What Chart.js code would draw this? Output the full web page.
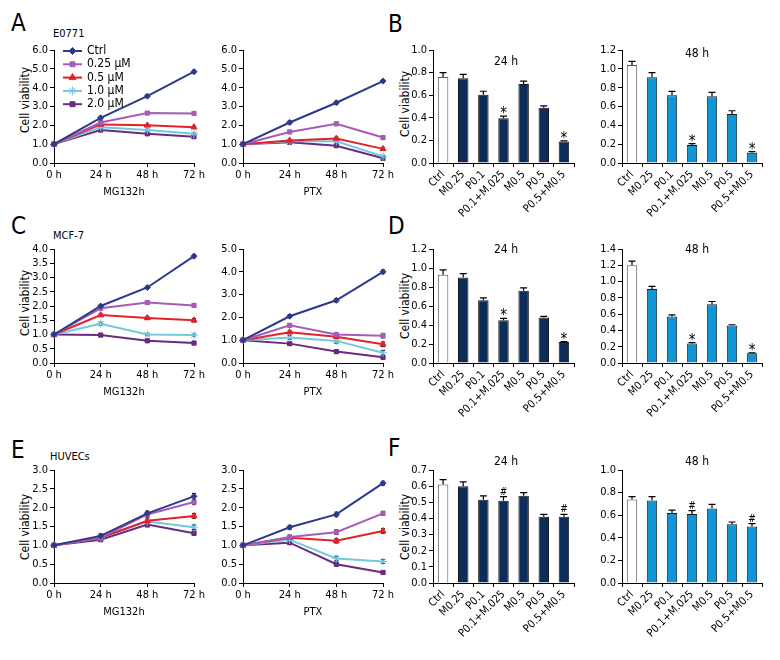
<!DOCTYPE html>
<html>
<head>
<meta charset="utf-8">
<script src="https://cdn.jsdelivr.net/npm/chart.js@4"></script>
<style>
  body { margin: 0; background: #fff; width: 780px; height: 660px; position: relative; overflow: hidden;
         font-family: 'Liberation Sans Narrow', 'DejaVu Sans Condensed', 'Roboto Condensed', Arial, sans-serif; color: #000; }
  canvas { position: absolute; }
  .txt { position: absolute; white-space: nowrap; line-height: 1; }
  .letter { font-size: 24px; }
  .cell { font-size: 11px; }
  .ytitle { font-size: 12px; transform: translate(-50%, -50%) rotate(-90deg); }
</style>
</head>
<body>
<div class="txt letter" style="left:11px;top:11px">A</div>
<div class="txt letter" style="left:388px;top:12px">B</div>
<div class="txt letter" style="left:11px;top:214px">C</div>
<div class="txt letter" style="left:388px;top:214px">D</div>
<div class="txt letter" style="left:11px;top:438px">E</div>
<div class="txt letter" style="left:388px;top:436px">F</div>
<div class="txt cell" style="left:53px;top:28px">E0771</div>
<div class="txt cell" style="left:53px;top:230px">MCF-7</div>
<div class="txt cell" style="left:50px;top:451px">HUVECs</div>
<div class="txt ytitle" style="left:25px;top:100px">Cell viability</div>
<div class="txt ytitle" style="left:25px;top:303px">Cell viability</div>
<div class="txt ytitle" style="left:25px;top:527px">Cell viability</div>
<div class="txt ytitle" style="left:405px;top:104px">Cell viability</div>
<div class="txt ytitle" style="left:405px;top:306px">Cell viability</div>
<div class="txt ytitle" style="left:405px;top:527px">Cell viability</div>

<script>
const FONT = "'Liberation Sans Narrow','DejaVu Sans Condensed','Roboto Condensed',Arial,sans-serif";
Chart.defaults.font.family = FONT;
Chart.defaults.color = '#000';

// ---- data ----
const timeLabels = ['0 h', '24 h', '48 h', '72 h'];
const doseLabels = ['Ctrl', '0.25 µM', '0.5 µM', '1.0 µM', '2.0 µM'];
const groupLabels = ['Ctrl', 'M0.25', 'P0.1', 'P0.1+M.025', 'M0.5', 'P0.5', 'P0.5+M0.5'];

// line panels: one row per dose (Ctrl, 0.25, 0.5, 1.0, 2.0)
const e0771Mg132 = [
  [1.0, 2.4, 3.55, 4.85],
  [1.0, 2.15, 2.65, 2.63],
  [1.0, 2.05, 2.0, 1.9],
  [1.0, 1.9, 1.75, 1.55],
  [1.0, 1.75, 1.55, 1.4]
];
const e0771Mg132Err = [
  [0, 0.06, 0.06, 0.08], [0, 0.05, 0.06, 0.06], [0, 0.05, 0.05, 0.06], [0, 0.05, 0.05, 0.05], [0, 0.05, 0.05, 0.05]
];
const e0771Ptx = [
  [1.0, 2.15, 3.2, 4.35],
  [1.0, 1.65, 2.08, 1.35],
  [1.0, 1.2, 1.3, 0.75],
  [1.0, 1.15, 1.15, 0.35],
  [1.0, 1.1, 0.92, 0.25]
];
const e0771PtxErr = [
  [0, 0.08, 0.08, 0.08], [0, 0.08, 0.08, 0.08], [0, 0.05, 0.08, 0.08], [0, 0.05, 0.05, 0.05], [0, 0.05, 0.05, 0.05]
];
const mcf7Mg132 = [
  [1.0, 2.0, 2.65, 3.75],
  [1.0, 1.92, 2.12, 2.02],
  [1.0, 1.68, 1.58, 1.5],
  [1.0, 1.38, 1.0, 0.98],
  [1.0, 0.98, 0.78, 0.7]
];
const mcf7Mg132Err = [
  [0, 0.04, 0.04, 0.06], [0, 0.04, 0.05, 0.05], [0, 0.05, 0.05, 0.06], [0, 0.05, 0.04, 0.04], [0, 0.04, 0.05, 0.05]
];
const mcf7Ptx = [
  [1.0, 2.05, 2.75, 4.0],
  [1.0, 1.65, 1.25, 1.2],
  [1.0, 1.35, 1.15, 0.82],
  [1.0, 1.12, 0.97, 0.45],
  [1.0, 0.85, 0.5, 0.25]
];
const mcf7PtxErr = [
  [0, 0.06, 0.08, 0.08], [0, 0.06, 0.06, 0.1], [0, 0.06, 0.08, 0.1], [0, 0.08, 0.1, 0.1], [0, 0.06, 0.08, 0.08]
];
const huvecMg132 = [
  [1.0, 1.25, 1.85, 2.3],
  [1.0, 1.2, 1.82, 2.15],
  [1.0, 1.2, 1.65, 1.78],
  [1.0, 1.2, 1.63, 1.48],
  [1.0, 1.15, 1.55, 1.32]
];
const huvecMg132Err = [
  [0, 0.06, 0.06, 0.08], [0, 0.05, 0.06, 0.07], [0, 0.05, 0.08, 0.06], [0, 0.05, 0.06, 0.06], [0, 0.05, 0.06, 0.06]
];
const huvecPtx = [
  [1.0, 1.48, 1.82, 2.65],
  [1.0, 1.22, 1.35, 1.85],
  [1.0, 1.2, 1.12, 1.38],
  [1.0, 1.15, 0.65, 0.57],
  [1.0, 1.07, 0.5, 0.28]
];
const huvecPtxErr = [
  [0, 0.05, 0.06, 0.05], [0, 0.05, 0.06, 0.05], [0, 0.05, 0.06, 0.06], [0, 0.05, 0.06, 0.05], [0, 0.04, 0.05, 0.03]
];

// bar panels
const e0771Bar24 = [0.76, 0.75, 0.605, 0.395, 0.70, 0.49, 0.19];
const e0771Err24 = [0.04, 0.035, 0.03, 0.02, 0.025, 0.015, 0.005];
const e0771Bar48 = [1.04, 0.91, 0.72, 0.19, 0.71, 0.52, 0.11];
const e0771Err48 = [0.04, 0.05, 0.04, 0.015, 0.04, 0.035, 0.01];
const mcf7Bar24 = [0.93, 0.9, 0.66, 0.45, 0.76, 0.48, 0.22];
const mcf7Err24 = [0.05, 0.04, 0.025, 0.02, 0.03, 0.01, 0.005];
const mcf7Bar48 = [1.2, 0.91, 0.57, 0.24, 0.72, 0.46, 0.12];
const mcf7Err48 = [0.05, 0.03, 0.02, 0.01, 0.035, 0.01, 0.005];
const huvecBar24 = [0.61, 0.60, 0.515, 0.51, 0.54, 0.41, 0.41];
const huvecErr24 = [0.03, 0.027, 0.025, 0.025, 0.02, 0.015, 0.015];
const huvecBar48 = [0.74, 0.73, 0.62, 0.61, 0.66, 0.52, 0.5];
const huvecErr48 = [0.025, 0.035, 0.025, 0.03, 0.035, 0.02, 0.025];
const starMarks = ['', '', '', '*', '', '', '*'];
const hashMarks = ['', '', '', '#', '', '', '#'];

// ---- styles ----
const doseColors = ['#2e3a87', '#a65db8', '#e2222b', '#72c8de', '#6b2a80'];
const doseMarkers = ['rectRot', 'rect', 'triangle', 'star', 'rect'];
const doseRadius = [3, 3, 3.5, 4, 3];
const NAVY = '#0c2c5a';
const BLUE = '#1195d5';
const FS = 11;

const ML = 34, MT = 16, MR = 16;

function addCanvas(box, mb) {
  const c = document.createElement('canvas');
  const w = box[2] - box[0] + ML + MR;
  const h = box[3] - box[1] + MT + mb;
  c.width = w; c.height = h;
  c.style.left = (box[0] - ML) + 'px';
  c.style.top = (box[1] - MT) + 'px';
  c.style.width = w + 'px';
  c.style.height = h + 'px';
  document.body.appendChild(c);
  return c;
}

function yAxis(max, step) {
  return {
    min: 0, max: max,
    afterFit: s => { s.width = ML; },
    border: { display: true, color: '#000', width: 1 },
    grid: { drawOnChartArea: false, drawTicks: true, tickLength: 4, color: '#000' },
    ticks: { stepSize: step, autoSkip: false, color: '#000', font: { size: FS }, padding: 2,
             callback: v => Number(v).toFixed(1) }
  };
}

// legend drawn inside panel A (left)
function legendPlugin(box) {
  return {
    id: 'doseLegend',
    afterDraw(chart) {
      const ctx = chart.ctx;
      const ox = box[0] - ML, oy = box[1] - MT;
      ctx.save();
      chart.data.datasets.forEach((ds, i) => {
        const y = 51 + i * 13.3 - oy;
        ctx.strokeStyle = ds.borderColor;
        ctx.fillStyle = ds.borderColor;
        ctx.lineWidth = 2;
        ctx.beginPath(); ctx.moveTo(63 - ox, y); ctx.lineTo(82 - ox, y); ctx.stroke();
        ctx.lineWidth = 1;
        Chart.helpers.drawPoint(ctx, { pointStyle: ds.pointStyle, radius: ds.pointRadius + 0.5, borderWidth: 1, rotation: 0 }, 72.5 - ox, y);
        ctx.fillStyle = '#000';
        ctx.font = '12px ' + FONT;
        ctx.textBaseline = 'middle';
        ctx.textAlign = 'left';
        ctx.fillText(ds.label, 87 - ox, y);
      });
      ctx.restore();
    }
  };
}

// small black error caps on the time-course points
function lineErrorPlugin(errs) {
  return {
    id: 'lineErrors',
    beforeDatasetsDraw(chart) {
      const ctx = chart.ctx;
      const y = chart.scales.y;
      ctx.save();
      ctx.strokeStyle = '#000';
      ctx.lineWidth = 1;
      chart.data.datasets.forEach((ds, d) => {
        chart.getDatasetMeta(d).data.forEach((pt, i) => {
          const e = errs[d][i];
          if (!e) return;
          const hi = y.getPixelForValue(ds.data[i] + e);
          const lo = y.getPixelForValue(ds.data[i] - e);
          ctx.beginPath();
          ctx.moveTo(pt.x, hi); ctx.lineTo(pt.x, lo);
          ctx.moveTo(pt.x - 2, hi); ctx.lineTo(pt.x + 2, hi);
          ctx.moveTo(pt.x - 2, lo); ctx.lineTo(pt.x + 2, lo);
          ctx.stroke();
        });
      });
      ctx.restore();
    }
  };
}

function linePanel(box, series, errs, yMax, yStep, xTitle, withLegend) {
  const mb = 41;
  const canvas = addCanvas(box, mb);
  const plugins = [lineErrorPlugin(errs)];
  if (withLegend) plugins.push(legendPlugin(box));
  new Chart(canvas, {
    type: 'line',
    data: {
      labels: timeLabels,
      datasets: series.map((vals, i) => ({
        label: doseLabels[i],
        data: vals,
        borderColor: doseColors[i],
        backgroundColor: doseColors[i],
        pointBackgroundColor: doseColors[i],
        pointBorderColor: doseColors[i],
        borderWidth: 2,
        pointStyle: doseMarkers[i],
        pointRadius: doseRadius[i],
        pointBorderWidth: 1,
        tension: 0
      }))
    },
    options: {
      responsive: false,
      animation: false,
      layout: { padding: { top: MT, right: MR, left: 0, bottom: 0 } },
      plugins: { legend: { display: false }, tooltip: { enabled: false } },
      scales: {
        x: {
          offset: false,
          afterFit: s => { s.height = mb; },
          border: { display: true, color: '#000', width: 1 },
          grid: { drawOnChartArea: false, drawTicks: true, tickLength: 4, color: '#000', offset: false },
          ticks: { color: '#000', font: { size: FS }, padding: 2, maxRotation: 0, autoSkip: false },
          title: { display: true, text: xTitle, color: '#000', font: { size: FS }, padding: { top: 2, bottom: 5 } }
        },
        y: yAxis(yMax, yStep)
      }
    },
    plugins: plugins
  });
}

function barPanel(box, values, errors, marks, color, yMax, yStep, title, titlePos) {
  const mb = 70;
  const canvas = addCanvas(box, mb);
  const ox = box[0] - ML, oy = box[1] - MT;
  const extras = {
    id: 'errorsAndTitle',
    afterDatasetsDraw(chart) {
      const ctx = chart.ctx;
      const y = chart.scales.y;
      const meta = chart.getDatasetMeta(0);
      ctx.save();
      ctx.strokeStyle = '#000';
      ctx.fillStyle = '#000';
      ctx.lineWidth = 1.2;
      ctx.textAlign = 'center';
      ctx.textBaseline = 'alphabetic';
      meta.data.forEach((bar, i) => {
        const top = y.getPixelForValue(values[i] + errors[i]);
        ctx.beginPath();
        ctx.moveTo(bar.x, bar.y); ctx.lineTo(bar.x, top);
        ctx.moveTo(bar.x - 3.5, top); ctx.lineTo(bar.x + 3.5, top);
        ctx.stroke();
        if (marks[i]) {
          ctx.font = (marks[i] === '*' ? '15px ' : '10px ') + FONT;
          const m = ctx.measureText(marks[i]);
          // put the glyph's bottom 2px above the error cap
          ctx.fillText(marks[i], bar.x, top - 2 - m.actualBoundingBoxDescent);
        }
      });
      ctx.font = '12px ' + FONT;
      ctx.textBaseline = 'middle';
      ctx.fillText(title, titlePos[0] - ox, titlePos[1] - oy);
      ctx.restore();
    }
  };
  new Chart(canvas, {
    type: 'bar',
    data: {
      labels: groupLabels,
      datasets: [{
        data: values,
        backgroundColor: values.map((v, i) => i === 0 ? '#ffffff' : color),
        borderColor: values.map((v, i) => i === 0 ? '#555555' : '#1a1a1a'),
        borderWidth: 1,
        barPercentage: 0.52,
        categoryPercentage: 1
      }]
    },
    options: {
      responsive: false,
      animation: false,
      layout: { padding: { top: MT, right: MR, left: 0, bottom: 0 } },
      plugins: { legend: { display: false }, tooltip: { enabled: false } },
      scales: {
        x: {
          offset: true,
          afterFit: s => { s.height = mb; },
          border: { display: true, color: '#000', width: 1 },
          grid: { drawOnChartArea: false, drawTicks: true, tickLength: 4, color: '#000', offset: true },
          ticks: { color: '#000', font: { size: FS }, padding: 1, minRotation: 45, maxRotation: 45, autoSkip: false }
        },
        y: yAxis(yMax, yStep)
      }
    },
    plugins: [extras]
  });
}

// ---- layout (page pixel boxes of plot areas) ----
const colLine1 = [54, 194], colLine2 = [243, 383];
const colBar1 = [433, 574], colBar2 = [622, 762];
const row1 = [50, 163], row2 = [249, 363], row3 = [470, 583];
const bx = (c, r) => [c[0], r[0], c[1], r[1]];

linePanel(bx(colLine1, row1), e0771Mg132, e0771Mg132Err, 6, 1, 'MG132h', true);
linePanel(bx(colLine2, row1), e0771Ptx, e0771PtxErr, 6, 1, 'PTX', false);
linePanel(bx(colLine1, row2), mcf7Mg132, mcf7Mg132Err, 4, 0.5, 'MG132h', false);
linePanel(bx(colLine2, row2), mcf7Ptx, mcf7PtxErr, 5, 1, 'PTX', false);
linePanel(bx(colLine1, row3), huvecMg132, huvecMg132Err, 3, 0.5, 'MG132h', false);
linePanel(bx(colLine2, row3), huvecPtx, huvecPtxErr, 3, 0.5, 'PTX', false);

barPanel(bx(colBar1, row1), e0771Bar24, e0771Err24, starMarks, NAVY, 1.0, 0.2, '24 h', [506, 62]);
barPanel(bx(colBar2, row1), e0771Bar48, e0771Err48, starMarks, BLUE, 1.2, 0.2, '48 h', [697, 54]);
barPanel(bx(colBar1, row2), mcf7Bar24, mcf7Err24, starMarks, NAVY, 1.2, 0.2, '24 h', [506, 250]);
barPanel(bx(colBar2, row2), mcf7Bar48, mcf7Err48, starMarks, BLUE, 1.4, 0.2, '48 h', [697, 250]);
barPanel(bx(colBar1, row3), huvecBar24, huvecErr24, hashMarks, NAVY, 0.7, 0.1, '24 h', [506, 462]);
barPanel(bx(colBar2, row3), huvecBar48, huvecErr48, hashMarks, BLUE, 1.0, 0.2, '48 h', [697, 462]);
</script>
</body>
</html>
